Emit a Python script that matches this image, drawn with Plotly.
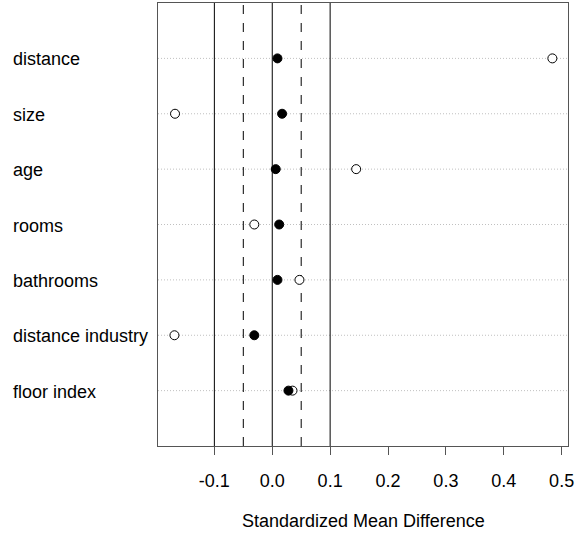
import plotly.graph_objects as go

variables = ["distance", "size", "age", "rooms", "bathrooms", "distance industry", "floor index"]
smd_unadjusted = [0.484, -0.168, 0.145, -0.031, 0.047, -0.169, 0.035]
smd_adjusted = [0.009, 0.017, 0.006, 0.012, 0.009, -0.031, 0.028]
x_ticks = [-0.1, 0.0, 0.1, 0.2, 0.3, 0.4, 0.5]
x_tick_labels = ["-0.1", "0.0", "0.1", "0.2", "0.3", "0.4", "0.5"]
solid_refs = [-0.1, 0.0, 0.1]
dashed_refs = [-0.05, 0.05]

n = len(variables)
ypos = [n - i for i in range(n)]

FONT = "Liberation Sans, Arial"
FS = 18

fig = go.Figure()

# dotted row guides
for y in ypos:
    fig.add_shape(type="line", xref="paper", x0=0, x1=1, yref="y", y0=y, y1=y,
                  line=dict(color="#c0c0c0", width=1, dash="1px,2px"), layer="below")

for xv in solid_refs:
    fig.add_shape(type="line", xref="x", x0=xv, x1=xv, yref="paper", y0=0, y1=1,
                  line=dict(color="black", width=1), layer="below")
for xv in dashed_refs:
    fig.add_shape(type="line", xref="x", x0=xv, x1=xv, yref="paper", y0=0, y1=1,
                  line=dict(color="black", width=1, dash="dash"), layer="below")

fig.add_trace(go.Scatter(x=smd_unadjusted, y=ypos, mode="markers",
                         marker=dict(symbol="circle", size=9, color="white",
                                     line=dict(color="black", width=1)),
                         showlegend=False))
fig.add_trace(go.Scatter(x=smd_adjusted, y=ypos, mode="markers",
                         marker=dict(symbol="circle", size=9, color="black",
                                     line=dict(color="black", width=1)),
                         showlegend=False))

for lab, y in zip(variables, ypos):
    fig.add_annotation(text=lab, xref="paper", x=(11 - 158) / 410, xanchor="left",
                       yref="y", y=y, yanchor="middle", showarrow=False, yshift=-1,
                       font=dict(family=FONT, size=FS, color="black"))

fig.add_annotation(text="Standardized Mean Difference", xref="paper", x=0.5, xanchor="center",
                   yref="paper", y=(446 - 521) / 443, yanchor="middle", showarrow=False,
                   font=dict(family=FONT, size=FS, color="black"))

fig.update_xaxes(range=[-0.1974, 0.511], tickvals=x_ticks, ticktext=x_tick_labels,
                 ticks="outside", ticklen=8, tickcolor="#555", showgrid=False, zeroline=False,
                 showline=True, mirror=True, linecolor="#555", linewidth=1,
                 ticklabelstandoff=10,
                 tickfont=dict(family=FONT, size=FS, color="black"))
fig.update_yaxes(range=[0, 8], showticklabels=False, ticks="", showgrid=False, zeroline=False,
                 showline=True, mirror=True, linecolor="#555", linewidth=1)

fig.update_layout(width=579, height=533, margin=dict(l=158, r=11, t=3, b=87),
                  plot_bgcolor="white", paper_bgcolor="white")

fig.write_html("out.html")
